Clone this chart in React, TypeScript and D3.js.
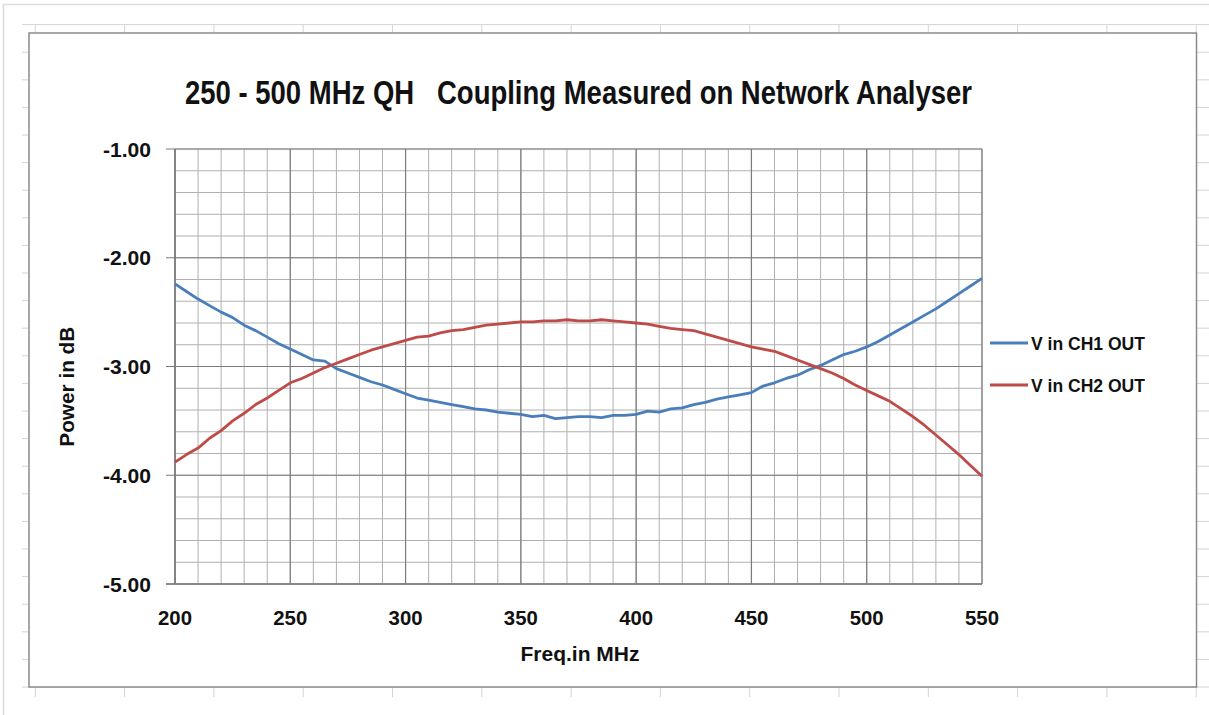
import React from "react";
import * as d3 from "d3";

const freqs = [200,205,210,215,220,225,230,235,240,245,250,255,260,265,270,275,280,285,290,295,300,305,310,315,320,325,330,335,340,345,350,355,360,365,370,375,380,385,390,395,400,405,410,415,420,425,430,435,440,445,450,455,460,465,470,475,480,485,490,495,500,505,510,515,520,525,530,535,540,545,550];

const ch1 = [-2.24,-2.31,-2.38,-2.44,-2.50,-2.55,-2.62,-2.67,-2.73,-2.79,-2.84,-2.89,-2.94,-2.95,-3.02,-3.06,-3.10,-3.14,-3.17,-3.21,-3.25,-3.29,-3.31,-3.33,-3.35,-3.37,-3.39,-3.40,-3.42,-3.43,-3.44,-3.46,-3.45,-3.48,-3.47,-3.46,-3.46,-3.47,-3.45,-3.45,-3.44,-3.41,-3.42,-3.39,-3.38,-3.35,-3.33,-3.30,-3.28,-3.26,-3.24,-3.18,-3.15,-3.11,-3.08,-3.03,-2.99,-2.94,-2.89,-2.86,-2.82,-2.77,-2.71,-2.65,-2.59,-2.53,-2.47,-2.40,-2.33,-2.26,-2.19];

const ch2 = [-3.88,-3.81,-3.75,-3.66,-3.59,-3.50,-3.43,-3.35,-3.29,-3.22,-3.15,-3.11,-3.06,-3.01,-2.97,-2.93,-2.89,-2.85,-2.82,-2.79,-2.76,-2.73,-2.72,-2.69,-2.67,-2.66,-2.64,-2.62,-2.61,-2.60,-2.59,-2.59,-2.58,-2.58,-2.57,-2.58,-2.58,-2.57,-2.58,-2.59,-2.60,-2.61,-2.63,-2.65,-2.66,-2.67,-2.70,-2.73,-2.76,-2.79,-2.82,-2.84,-2.86,-2.90,-2.94,-2.98,-3.02,-3.06,-3.11,-3.17,-3.22,-3.27,-3.32,-3.39,-3.46,-3.54,-3.63,-3.72,-3.81,-3.91,-4.01];

const seriesNames = ["V in CH1 OUT", "V in CH2 OUT"];
const seriesColors = ["#4A7EBB", "#BE4B48"];
const xTicks = [200, 250, 300, 350, 400, 450, 500, 550];
const yTicks = [-1, -2, -3, -4, -5];
const titleText = "250 - 500 MHz QH   Coupling Measured on Network Analyser";
const xTitle = "Freq.in MHz";
const yTitle = "Power in dB";

const FONT = "'Liberation Sans', Arial, Helvetica, sans-serif";

export default function App() {
  const x = d3.scaleLinear().domain([200, 550]).range([175, 982]);
  const y = d3.scaleLinear().domain([-5, -1]).range([584, 149]);

  const minorX = d3.range(200, 551, 10);
  const minorY = d3.range(0, 21).map((i) => -5 + i * 0.2);

  const line = d3
    .line<[number, number]>()
    .x((d) => x(d[0]))
    .y((d) => y(d[1]));

  const s1 = freqs.map((f, i) => [f, ch1[i]] as [number, number]);
  const s2 = freqs.map((f, i) => [f, ch2[i]] as [number, number]);

  const sheetCols = d3.range(0, 14).map((k) => 35.3 + k * 89.3);
  const sheetRows = d3.range(0, 25).map((k) => 24.6 + k * 27.6);

  return (
    <div style={{ position: "absolute", left: 0, top: 0 }}>
      <svg width={1209} height={715} style={{ display: "block", background: "#fff" }}>
        <rect x={3.5} y={4.5} width={1300} height={800} fill="#fff" stroke="#dcdcdc" strokeWidth={1.5} />
        <g stroke="#d4d4d4" strokeWidth={1}>
          {sheetRows.map((r, i) => (
            <line key={"r" + i} x1={22} x2={1209} y1={r} y2={r} />
          ))}
          {sheetCols.map((c, i) => (
            <line key={"c" + i} x1={c} x2={c} y1={24.6} y2={697} />
          ))}
        </g>
        <rect x={29} y={33} width={1167.5} height={654} fill="#fff" stroke="#8a8a8a" strokeWidth={1.5} />

        <g stroke="#b0b0b0" strokeWidth={1}>
          {minorX.map((v) => (
            <line key={"mx" + v} x1={x(v)} x2={x(v)} y1={y(-1)} y2={y(-5)} />
          ))}
          {minorY.map((v, i) => (
            <line key={"my" + i} x1={x(200)} x2={x(550)} y1={y(v)} y2={y(v)} />
          ))}
        </g>
        <g stroke="#7c7c7c" strokeWidth={1.2}>
          {xTicks.map((v) => (
            <line key={"Mx" + v} x1={x(v)} x2={x(v)} y1={y(-1)} y2={y(-5)} />
          ))}
          {yTicks.map((v) => (
            <line key={"My" + v} x1={x(200) - 9} x2={x(550)} y1={y(v)} y2={y(v)} />
          ))}
        </g>
        <line x1={x(200)} x2={x(200)} y1={y(-1)} y2={y(-5)} stroke="#7c7c7c" strokeWidth={1.6} />
        <line x1={x(200) - 9} x2={x(550)} y1={y(-5)} y2={y(-5)} stroke="#7c7c7c" strokeWidth={1.6} />

        <path d={line(s1) || ""} fill="none" stroke={seriesColors[0]} strokeWidth={2.8} strokeLinejoin="round" />
        <path d={line(s2) || ""} fill="none" stroke={seriesColors[1]} strokeWidth={2.8} strokeLinejoin="round" />

        <text x={578.5} y={104} textAnchor="middle" fontFamily={FONT} fontWeight="bold" fontSize={33}
          fill="#111" textLength={787} lengthAdjust="spacingAndGlyphs" style={{ whiteSpace: "pre" }}>
          {titleText}
        </text>

        {yTicks.map((v) => (
          <text key={"yl" + v} x={151} y={y(v) + 7.5} textAnchor="end" fontFamily={FONT} fontWeight="bold"
            fontSize={21} fill="#111" textLength={48} lengthAdjust="spacingAndGlyphs">
            {v.toFixed(2)}
          </text>
        ))}
        {xTicks.map((v) => (
          <text key={"xl" + v} x={x(v)} y={625} textAnchor="middle" fontFamily={FONT} fontWeight="bold"
            fontSize={21} fill="#111" textLength={34} lengthAdjust="spacingAndGlyphs">
            {v}
          </text>
        ))}

        <text x={580} y={661} textAnchor="middle" fontFamily={FONT} fontWeight="bold" fontSize={20}
          fill="#111" textLength={119} lengthAdjust="spacingAndGlyphs">
          {xTitle}
        </text>
        <text transform="translate(74,386.7) rotate(-90)" textAnchor="middle" fontFamily={FONT}
          fontWeight="bold" fontSize={20} fill="#111" textLength={120} lengthAdjust="spacingAndGlyphs">
          {yTitle}
        </text>

        {seriesNames.map((n, i) => {
          const ly = 343 + i * 42;
          return (
            <g key={n}>
              <line x1={990} x2={1028} y1={ly} y2={ly} stroke={seriesColors[i]} strokeWidth={2.8} />
              <text x={1031} y={ly + 7} fontFamily={FONT} fontWeight="bold" fontSize={19} fill="#111"
                textLength={114} lengthAdjust="spacingAndGlyphs">
                {n}
              </text>
            </g>
          );
        })}
      </svg>
    </div>
  );
}
